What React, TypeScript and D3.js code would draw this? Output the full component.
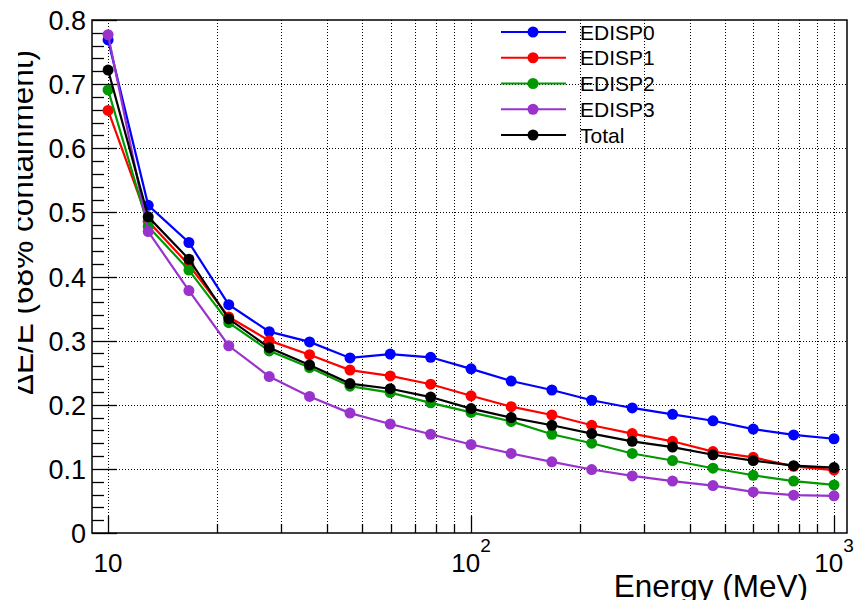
import React, { useEffect, useRef } from 'react';
import * as d3 from 'd3';

const energies = [10, 12.9, 16.7, 21.5, 27.8, 35.9, 46.4, 59.9, 77.4, 100, 129, 167, 215, 278, 359, 464, 599, 774, 1000];
const edisp0 = [0.769, 0.511, 0.453, 0.356, 0.314, 0.298, 0.273, 0.279, 0.274, 0.256, 0.237, 0.223, 0.207, 0.195, 0.185, 0.175, 0.162, 0.153, 0.147];
const edisp1 = [0.659, 0.486, 0.418, 0.337, 0.300, 0.278, 0.254, 0.245, 0.232, 0.214, 0.197, 0.184, 0.168, 0.155, 0.143, 0.127, 0.118, 0.104, 0.098];
const edisp2 = [0.691, 0.478, 0.410, 0.328, 0.284, 0.258, 0.229, 0.219, 0.203, 0.188, 0.174, 0.154, 0.140, 0.124, 0.113, 0.101, 0.090, 0.081, 0.075];
const edisp3 = [0.777, 0.470, 0.378, 0.292, 0.244, 0.213, 0.187, 0.170, 0.154, 0.138, 0.124, 0.111, 0.099, 0.089, 0.081, 0.074, 0.064, 0.059, 0.058];
const total = [0.722, 0.493, 0.427, 0.334, 0.289, 0.262, 0.233, 0.225, 0.212, 0.194, 0.180, 0.168, 0.155, 0.143, 0.134, 0.122, 0.113, 0.105, 0.102];

const seriesNames = ['EDISP0', 'EDISP1', 'EDISP2', 'EDISP3', 'Total'];
const seriesColors = ['#0000ff', '#ff0000', '#009900', '#9933cc', '#000000'];
const seriesValues = [edisp0, edisp1, edisp2, edisp3, total];

const xDomain = [9.03, 1086];
const yDomain = [0, 0.8];
const yTicks = [0, 0.1, 0.2, 0.3, 0.4, 0.5, 0.6, 0.7, 0.8];
const xMajorTicks = [10, 100, 1000];
const xTickLabels = [['10', ''], ['10', '2'], ['10', '3']];

const FONT = '"Liberation Sans", Arial, Helvetica, sans-serif';

const App = () => {
    const ref = useRef<SVGSVGElement | null>(null);

    useEffect(() => {
        if (!ref.current) return;
        const svg = d3.select(ref.current);
        svg.selectAll('*').remove();

        const left = 92, right = 847, top = 20, bottom = 533;
        const x = d3.scaleLog().domain(xDomain).range([left, right]);
        const y = d3.scaleLinear().domain(yDomain).range([bottom, top]);

        // x grid + minor ticks (every 1..9 x decade)
        const xMinor: number[] = [];
        [10, 100].forEach(dec => {
            for (let k = 1; k <= 9; k++) xMinor.push(dec * k);
        });
        xMinor.push(1000);

        const grid = svg.append('g')
            .attr('stroke', '#000')
            .attr('stroke-width', 1)
            .attr('stroke-dasharray', '1,2');
        xMinor.forEach(v => {
            grid.append('line')
                .attr('x1', Math.round(x(v)) + 0.5).attr('x2', Math.round(x(v)) + 0.5)
                .attr('y1', top).attr('y2', bottom);
        });
        yTicks.slice(1, -1).forEach(v => {
            grid.append('line')
                .attr('x1', left).attr('x2', right)
                .attr('y1', Math.round(y(v)) + 0.5).attr('y2', Math.round(y(v)) + 0.5);
        });

        // frame
        svg.append('rect')
            .attr('x', left).attr('y', top)
            .attr('width', right - left).attr('height', bottom - top)
            .attr('fill', 'none').attr('stroke', '#000').attr('stroke-width', 1.5);

        // y ticks
        const ticks = svg.append('g').attr('stroke', '#000').attr('stroke-width', 1.3);
        for (let i = 0; i <= 40; i++) {
            const v = i * 0.02;
            const major = i % 5 === 0;
            ticks.append('line')
                .attr('x1', left).attr('x2', left + (major ? 25 : 12))
                .attr('y1', Math.round(y(v)) + 0.5).attr('y2', Math.round(y(v)) + 0.5);
        }
        // x ticks
        xMinor.forEach(v => {
            const major = xMajorTicks.includes(v);
            ticks.append('line')
                .attr('x1', Math.round(x(v)) + 0.5).attr('x2', Math.round(x(v)) + 0.5)
                .attr('y1', bottom).attr('y2', bottom - (major ? 17 : 9));
        });

        // y tick labels
        svg.append('g').selectAll('text').data(yTicks).enter().append('text')
            .attr('x', 86)
            .attr('y', d => y(d) + 10)
            .attr('text-anchor', 'end')
            .style('font-family', FONT)
            .style('font-size', '27px')
            .text(d => (d === 0 ? '0' : d3.format('.1f')(d)));

        // x tick labels
        xMajorTicks.forEach((v, i) => {
            const [base, sup] = xTickLabels[i];
            const t = svg.append('text')
                .attr('x', x(v))
                .attr('y', 572)
                .attr('text-anchor', 'middle')
                .style('font-family', FONT)
                .style('font-size', '26px');
            t.append('tspan').text(base);
            if (sup) {
                t.append('tspan').attr('dy', -20).style('font-size', '19px').text(sup);
            }
        });

        // axis titles
        svg.append('text')
            .attr('x', 808).attr('y', 597)
            .attr('text-anchor', 'end')
            .style('font-family', FONT)
            .style('font-size', '31.5px')
            .text('Energy (MeV)');

        const clip = svg.append('defs').append('clipPath').attr('id', 'ytclip');
        clip.append('rect').attr('x', 18).attr('y', 0).attr('width', 60).attr('height', 600);
        svg.append('g').attr('clip-path', 'url(#ytclip)')
            .append('text')
            .attr('transform', 'translate(33,50) rotate(-90)')
            .attr('text-anchor', 'end')
            .style('font-family', FONT)
            .style('font-size', '31.5px')
            .text('ΔE/E (68% containment)');

        // series
        const line = d3.line<number>()
            .x((_, i) => x(energies[i]))
            .y(d => y(d));
        seriesValues.forEach((vals, s) => {
            const g = svg.append('g');
            g.append('path')
                .datum(vals)
                .attr('d', line)
                .attr('fill', 'none')
                .attr('stroke', seriesColors[s])
                .attr('stroke-width', 2.2);
            g.selectAll('circle').data(vals).enter().append('circle')
                .attr('cx', (_, i) => x(energies[i]))
                .attr('cy', d => y(d))
                .attr('r', 5.5)
                .attr('fill', seriesColors[s]);
        });

        // legend
        const legY = d3.scalePoint<string>().domain(seriesNames).range([32, 135]);
        seriesNames.forEach((name, s) => {
            const ly = legY(name) as number;
            svg.append('line')
                .attr('x1', 501).attr('x2', 566)
                .attr('y1', ly).attr('y2', ly)
                .attr('stroke', seriesColors[s]).attr('stroke-width', 2.2);
            svg.append('circle')
                .attr('cx', 533).attr('cy', ly).attr('r', 5.5)
                .attr('fill', seriesColors[s]);
            svg.append('text')
                .attr('x', 580).attr('y', ly + 7.5)
                .style('font-family', FONT)
                .style('font-size', '21px')
                .text(name);
        });
    }, []);

    return (
        <div style={{ position: 'absolute', left: 0, top: 0 }}>
            <svg ref={ref} width={862} height={600} style={{ display: 'block', background: '#fff' }} />
        </div>
    );
};

export default App;
